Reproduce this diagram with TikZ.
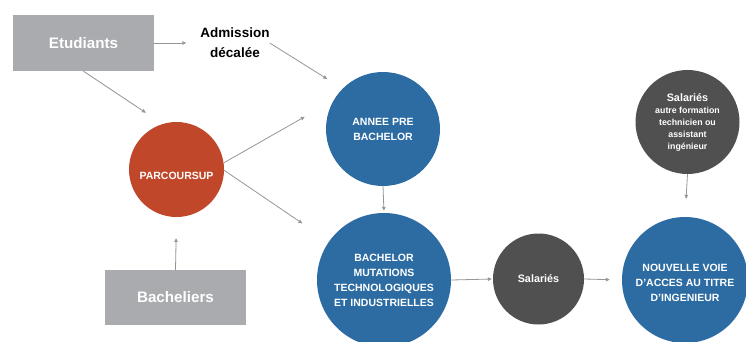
\documentclass[tikz,border=0pt]{standalone}
\usepackage{fontspec}
\setmainfont{Liberation Sans}
\usetikzlibrary{arrows.meta}
\definecolor{boxgrey}{RGB}{169,171,174}
\definecolor{redc}{RGB}{192,71,42}
\definecolor{bluec}{RGB}{44,108,163}
\definecolor{darkc}{RGB}{80,80,80}
\definecolor{arrc}{RGB}{150,150,150}
\tikzset{
  gbox/.style={fill=boxgrey, draw=none, text=white, font=\fontsize{15.2}{18}\selectfont\bfseries},
  circ/.style={circle, draw=none, text=white, inner sep=0pt, align=center, font=\fontsize{10.5}{15}\selectfont\bfseries},
  lbl/.style={text=white, inner sep=0pt, align=center, font=\fontsize{10.5}{15}\selectfont\bfseries},
  arr/.style={draw=arrc, line width=0.8pt, -{Triangle[length=4pt,width=3.5pt]}},
}
\begin{document}
\begin{tikzpicture}[x=1pt,y=-1pt]
\useasboundingbox (0,0) rectangle (746,342);
\fill[white] (0,0) rectangle (746,342);
\clip (0,0) rectangle (746,342);
\node[gbox, minimum width=141pt, minimum height=56pt] (etud) at (83.5,43) {Etudiants};
\node[gbox, minimum width=141pt, minimum height=55pt] (bachl) at (175.5,297.5) {Bacheliers};
\node[inner sep=0pt, align=center, font=\fontsize{13.5}{20}\selectfont\bfseries] (adm) at (235,43) {Admission\\décalée};
\node[circ, fill=redc, minimum size=95pt, label={[lbl, yshift=-6pt]center:PARCOURSUP}] (parc) at (176.5,169.5) {};
\node[circ, fill=bluec, minimum size=114pt] (annee) at (383,129) {ANNEE PRE\\BACHELOR};
\node[circ, fill=bluec, minimum size=134pt] (bach) at (384,280) {BACHELOR\\MUTATIONS\\TECHNOLOGIQUES\\ET INDUSTRIELLES};
\node[circ, fill=darkc, minimum size=91pt, font=\fontsize{10.8}{13}\selectfont\bfseries] (sal) at (538.5,279) {Salariés};
\node[circ, fill=bluec, minimum size=126pt, label={[lbl, yshift=-3pt]center:NOUVELLE VOIE\\D’ACCES AU TITRE\\D’INGENIEUR}] (nouv) at (685,280) {};
\node[circ, fill=darkc, minimum size=104pt, font=\fontsize{10.8}{12}\selectfont\bfseries] (sal2) at (687.5,122) {Salariés\\[0pt]{\fontsize{8.8}{10.7}\selectfont autre formation}\\{\fontsize{8.8}{10.7}\selectfont technicien ou}\\{\fontsize{8.8}{10.7}\selectfont assistant}\\{\fontsize{8.8}{10.7}\selectfont ingénieur}};
% connectors
\draw[arr, shorten >=14pt] (etud.east) -- (adm.west);
\draw[arr, shorten >=18pt] (adm.east) -- (annee.135);
\draw[arr, shorten >=20pt] (etud.south) -- (parc.107);
\draw[arr, shorten >=33pt] (parc.8) -- (annee.150);
\draw[arr, shorten >=32pt] (parc.-1) -- (bach.145);
\draw[arr, shorten >=21pt] (bachl.north) -- (parc.south);
\draw[arr, shorten >=2pt] (annee.south) -- (bach.north);
\draw[arr, shorten >=1pt] (bach.east) -- (sal.west);
\draw[arr, shorten >=12pt] (sal.east) -- (nouv.west);
\draw[arr, shorten >=18pt] (sal2.south) -- (nouv.north);
\end{tikzpicture}
\end{document}
